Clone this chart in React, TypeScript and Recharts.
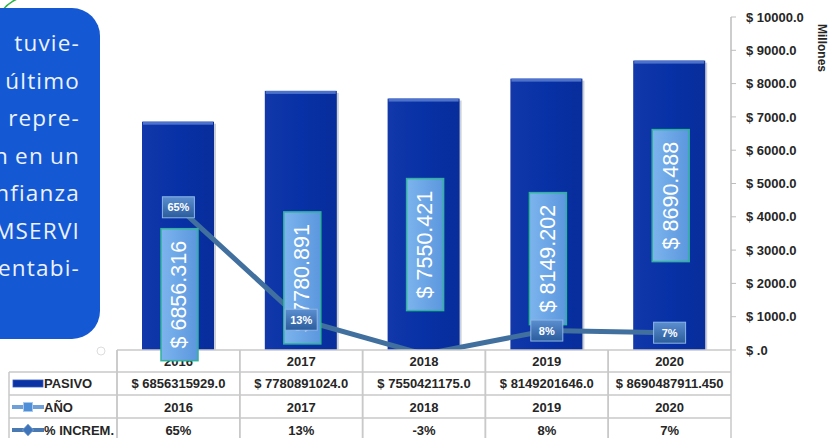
import React from 'react';
import { ComposedChart, Bar, Line, XAxis, YAxis, LabelList } from 'recharts';

// ---------- data ----------
const years = ['2016', '2017', '2018', '2019', '2020'];
const pasivo = [6856315929.0, 7780891024.0, 7550421175.0, 8149201646.0, 8690487911.45];
const pasivoText = ['$ 6856315929.0', '$ 7780891024.0', '$ 7550421175.0', '$ 8149201646.0', '$ 8690487911.450'];
const anio = [2016, 2017, 2018, 2019, 2020];
const increm = [65, 13, -3, 8, 7];
const yTicks = [0, 1000, 2000, 3000, 4000, 5000, 6000, 7000, 8000, 9000, 10000];
const legendNames = ['PASIVO', 'AÑO', '% INCREM.'];
const boxLines = ['tuvie-', 'último', 'repre-', 'n en un', 'nfianza', 'MSERVI', 'entabi-'];
const axisTitle = 'Millones';

const data = years.map((y, i) => ({ year: y, pasivoM: pasivo[i] / 1e6, pct: increm[i] }));

// ---------- layout / style ----------
const W = 828;
const H = 438;
const COL_W = 122.8;
const GRID = '#c9c9c9';
const TXT = '#262626';
const FONT = '"Liberation Sans", Arial, sans-serif';
const BAR_BLUE = '#0b33a3';
const LINE_BLUE = '#41709f';
// vertical offset of each value box below its bar top (label placement in the original)
const LABEL_DROP = [173, 187, 146, 180, 135];

const TableTick = (props: any) => {
  const { x, y, payload } = props;
  const i = years.indexOf(String(payload.value));
  const l = x - COL_W / 2;
  const r = x + COL_W / 2;
  const ts = { fill: TXT, fontSize: 13, fontWeight: 700, fontFamily: FONT, textAnchor: 'middle' as const };
  return (
    <g>
      <line x1={l} y1={y} x2={l} y2={y + 90} stroke={GRID} strokeWidth={1.5} />
      <line x1={r} y1={y} x2={r} y2={y + 90} stroke={GRID} strokeWidth={1.5} />
      {[22, 45, 68].map((d) => (
        <line key={d} x1={l} x2={r} y1={y + d} y2={y + d} stroke={GRID} strokeWidth={1.5} />
      ))}
      <text x={x} y={y + 15.5} {...ts}>{years[i]}</text>
      <text x={x} y={y + 38} {...ts}>{pasivoText[i]}</text>
      <text x={x} y={y + 61.5} {...ts}>{anio[i]}</text>
      <text x={x} y={y + 84.5} {...ts}>{increm[i]}%</text>
    </g>
  );
};

const BarShape = (p: any) => {
  const { x, y, width, height, index } = p;
  const gid = `bg${index}`;
  return (
    <g>
      <defs>
        <linearGradient id={gid} x1="0" y1="0" x2="1" y2="0">
          <stop offset="0" stopColor="#1238aa" />
          <stop offset="0.5" stopColor="#0731a6" />
          <stop offset="1" stopColor="#082d9b" />
        </linearGradient>
      </defs>
      <rect x={x + 2} y={y + 2} width={width} height={height - 2} fill="#8d96aa" opacity={0.45} />
      <rect x={x} y={y} width={width} height={height} fill={`url(#${gid})`} />
      <rect x={x + 1} y={y} width={width - 2} height={3} fill="#4c72cc" />
    </g>
  );
};

const ValueBox = (p: any) => {
  const { x, y, width, value, index } = p;
  const cx = x + width / 2 + 1.5;
  const cy = y + LABEL_DROP[index];
  const bw = 37;
  const bh = 132;
  return (
    <g>
      <defs>
        <linearGradient id={`vb${index}`} x1="0" y1="0" x2="1" y2="0">
          <stop offset="0" stopColor="#7db4ee" />
          <stop offset="1" stopColor="#5b97de" />
        </linearGradient>
      </defs>
      <rect x={cx - bw / 2} y={cy - bh / 2} width={bw} height={bh} fill={`url(#vb${index})`} stroke="#2fb39a" strokeWidth={1.5} />
      <text
        x={cx}
        y={cy}
        transform={`rotate(-90 ${cx} ${cy})`}
        textAnchor="middle"
        dominantBaseline="central"
        fill="#ffffff"
        fontSize={21.5}
        fontFamily={FONT}
      >
        {`$ ${Number(value).toFixed(3)}`}
      </text>
    </g>
  );
};

const PctBox = (p: any) => {
  const { x, y, value, index } = p;
  if (value < 0) return null;
  return (
    <g>
      <defs>
        <linearGradient id={`pb${index}`} x1="0" y1="0" x2="0" y2="1">
          <stop offset="0" stopColor="#5c8fd0" />
          <stop offset="1" stopColor="#2b5c9c" />
        </linearGradient>
      </defs>
      <rect x={x - 16} y={y - 10.5} width={32} height={21} fill={`url(#pb${index})`} stroke="#8cb6e6" strokeWidth={1} />
      <text x={x} y={y + 4} textAnchor="middle" fill="#ffffff" fontSize={11} fontWeight={700} fontFamily={FONT}>
        {`${value}%`}
      </text>
    </g>
  );
};

const fmtY = (v: number) => (v === 0 ? '$ .0' : `$ ${v.toFixed(1)}`);

export default function App() {
  const legendY = [383.5, 407, 430];
  const ls = { fill: TXT, fontSize: 13, fontWeight: 700, fontFamily: FONT };
  return (
    <div style={{ position: 'absolute', left: 0, top: 0, width: W, height: H, overflow: 'hidden', background: '#ffffff' }}>
      <ComposedChart width={W} height={H} data={data} margin={{ top: 17, right: 0, bottom: 0, left: 117 }}>
        <XAxis
          dataKey="year"
          height={88}
          interval={0}
          tickSize={0}
          tickMargin={0}
          tickLine={false}
          axisLine={{ stroke: GRID, strokeWidth: 1.5 }}
          tick={<TableTick />}
        />
        <YAxis
          yAxisId="m"
          orientation="right"
          width={97}
          domain={[0, 10000]}
          ticks={yTicks}
          interval={0}
          tickFormatter={fmtY}
          tickSize={5}
          tickMargin={10}
          axisLine={{ stroke: '#bdbdbd', strokeWidth: 1.5 }}
          tickLine={{ stroke: '#bdbdbd' }}
          tick={{ fill: TXT, fontSize: 13, fontWeight: 700, fontFamily: FONT }}
        />
        <YAxis yAxisId="p" hide domain={[-1, 153]} allowDataOverflow />
        <Bar yAxisId="m" dataKey="pasivoM" barSize={72} shape={<BarShape />} isAnimationActive={false}>
          <LabelList dataKey="pasivoM" content={<ValueBox />} />
        </Bar>
        <Line
          yAxisId="p"
          dataKey="pct"
          type="linear"
          stroke={LINE_BLUE}
          strokeWidth={5}
          dot={false}
          isAnimationActive={false}
        >
          <LabelList dataKey="pct" content={<PctBox />} />
        </Line>
      </ComposedChart>

      <svg width={W} height={H} style={{ position: 'absolute', left: 0, top: 0, pointerEvents: 'none' }}>
        {/* legend column of the data table */}
        {[372, 395, 418].map((yy) => (
          <line key={yy} x1={9} x2={117} y1={yy} y2={yy} stroke={GRID} strokeWidth={1.5} />
        ))}
        <line x1={9} x2={9} y1={372} y2={H} stroke={GRID} strokeWidth={1.5} />
        <line x1={117} x2={117} y1={350} y2={H} stroke={GRID} strokeWidth={1.5} />
        <rect x={13} y={380} width={30} height={7} fill={BAR_BLUE} stroke="#3458b8" strokeWidth={0.8} />
        <line x1={12} x2={44} y1={407} y2={407} stroke="#6e9fd6" strokeWidth={4} />
        <rect x={23.5} y={402.5} width={9} height={9} fill="#4f8fd8" stroke="#a7c9ee" strokeWidth={1} />
        <line x1={12} x2={44} y1={430} y2={430} stroke="#4a78b0" strokeWidth={4} />
        <path d="M28 424 L33.5 430 L28 436 L22.5 430 Z" fill="#3f74b8" stroke="#7fa8da" strokeWidth={0.8} />
        {legendNames.map((n, i) => (
          <text key={n} x={44} y={legendY[i] + 4.5} {...ls}>{n}</text>
        ))}
        {/* right axis title */}
        <text x={818} y={48} transform="rotate(90 818 48)" textAnchor="middle" fill={TXT} fontSize={12} fontWeight={700} fontFamily={FONT}>
          {axisTitle}
        </text>
        {/* decorations of the screenshot */}
        <circle cx={101} cy={351} r={4} fill="none" stroke="#dddddd" strokeWidth={1} />
        <path d="M2 11 Q 8 3 17 -1" fill="none" stroke="#2db34a" strokeWidth={1.6} />
      </svg>

      <div
        style={{
          position: 'absolute',
          left: -40,
          top: 8,
          width: 140,
          height: 331,
          background: '#1459d3',
          borderRadius: 28,
          boxSizing: 'border-box',
          paddingTop: 16,
          paddingRight: 20,
          color: '#edf2fc',
          fontFamily: '"Open Sans", sans-serif',
          fontSize: 22.5,
          letterSpacing: 1.2,
          wordSpacing: -1,
          lineHeight: '37.5px',
          textAlign: 'right',
          whiteSpace: 'nowrap',
        }}
      >
        {boxLines.map((t) => (
          <div key={t}>{t}</div>
        ))}
      </div>
    </div>
  );
}
